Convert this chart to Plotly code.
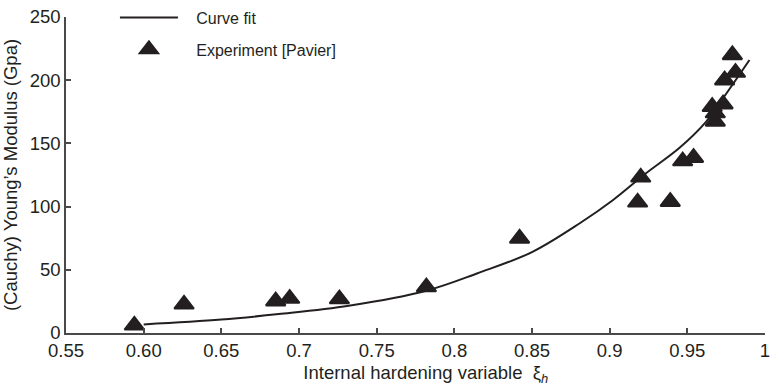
import plotly.graph_objects as go

# Experimental data (Pavier)
exp_x = [0.594, 0.626, 0.685, 0.694, 0.726, 0.782, 0.842,
         0.918, 0.920, 0.939, 0.947, 0.954, 0.966, 0.968, 0.968,
         0.973, 0.974, 0.979, 0.981]
exp_y = [6.1, 22.7, 25.2, 27.2, 26.8, 36.3, 74.8,
         103.4, 123.2, 103.9, 136, 138.7, 179, 174, 167.4,
         181, 200, 220, 206]

# Curve fit
fit_x = [0.600, 0.650, 0.687, 0.732, 0.782, 0.815, 0.850,
         0.881, 0.902, 0.923, 0.945, 0.962, 0.974, 0.990]
fit_y = [6.8, 10.6, 15.0, 21.6, 33.5, 47.3, 64.0,
         87.0, 105.0, 126.0, 146.5, 167.0, 187.5, 216.0]

x_tickvals = [0.55, 0.60, 0.65, 0.70, 0.75, 0.80, 0.85, 0.90, 0.95, 1.0]
x_ticktext = ["0.55", "0.60", "0.65", "0.7", "0.75", "0.8", "0.85", "0.9", "0.95", "1"]
y_tickvals = [0, 50, 100, 150, 200, 250]

ink = "#231f20"
axis_col = "#4a4a4a"
font = "Liberation Sans, Arial, sans-serif"
nb = "\u00a0"
zw = "\u200b"

fig = go.Figure()
fig.add_trace(go.Scatter(
    x=fit_x, y=fit_y, mode="lines", name=zw + nb * 3 + "Curve fit",
    line=dict(color=ink, width=2, shape="spline", smoothing=1.0),
    legendgroup="a",
))
fig.add_trace(go.Scatter(
    x=exp_x, y=exp_y, mode="markers", name=zw + nb * 3 + "Experiment [Pavier]",
    marker=dict(symbol="triangle-up", size=17, color=ink,
                line=dict(color=ink, width=2)),
    legendgroup="b",
))

fig.update_layout(
    width=771, height=389,
    margin=dict(l=66, r=1, t=9, b=56),
    paper_bgcolor="white", plot_bgcolor="white",
    font=dict(family=font, size=18, color=ink),
    showlegend=True,
    legend=dict(
        x=0.07, y=1.052, xanchor="left", yanchor="top",
        bgcolor="rgba(0,0,0,0)", font=dict(size=16, color=ink),
        traceorder="grouped", tracegroupgap=8, itemwidth=58,
    ),
    xaxis=dict(
        range=[0.55, 1.0], tickvals=x_tickvals, ticktext=x_ticktext,
        ticks="inside", ticklen=5, tickcolor=axis_col, tickwidth=1.5,
        showline=True, linecolor=axis_col, linewidth=1.5,
        showgrid=False, zeroline=False, ticklabeloverflow="allow",
        tickfont=dict(size=18.5, color=ink),
        title=dict(text=zw + nb * 4 + "Internal hardening variable  ξ<sub><i>h</i></sub>",
                   font=dict(size=18.5, color=ink), standoff=6),
    ),
    yaxis=dict(
        range=[0, 250], tickvals=y_tickvals,
        ticks="inside", ticklen=5, tickcolor=axis_col, tickwidth=1.5,
        showline=True, linecolor=axis_col, linewidth=1.5,
        showgrid=False, zeroline=False,
        tickfont=dict(size=18.5, color=ink),
        title=dict(text="(Cauchy) Young\u2019s Modulus (Gpa)" + nb * 6,
                   font=dict(size=18.5, color=ink), standoff=8),
    ),
)

fig.write_html("out.html")
